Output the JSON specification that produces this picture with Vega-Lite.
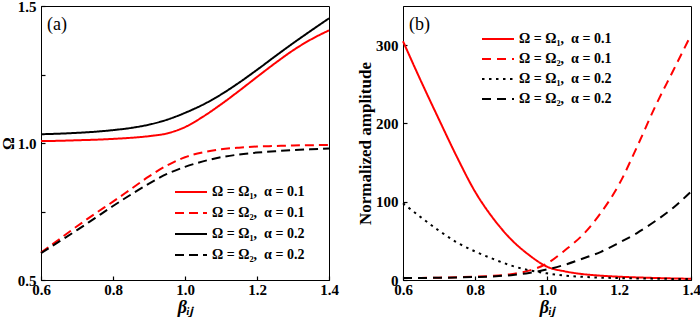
{
  "$schema": "https://vega.github.io/schema/vega-lite/v6.json",
  "padding": {"left": -1, "top": -2, "right": 0, "bottom": 0},
  "background": "white",
  "spacing": 17,
  "config": {
    "view": {"stroke": "black", "strokeWidth": 1},
    "axis": {
      "labelFont": "Liberation Serif", "labelFontWeight": "bold", "labelFontSize": 15, "labelColor": "black",
      "titleFont": "Liberation Serif", "titleFontWeight": "bold", "titleFontSize": 16, "titleColor": "black",
      "domainColor": "black", "tickColor": "black", "tickWidth": 1.2, "ticks": true, "tickSize": -4, "grid": false, "labelPadding": 9, "titlePadding": 1
    },
    "axisX": {"labelPadding": 6, "titlePadding": 1, "labelFlush": false},
    "legend": {
      "labelFont": "Liberation Serif", "labelFontWeight": "bold", "labelFontSize": 14, "labelColor": "black",
      "labelLimit": 300, "padding": 0, "symbolStrokeWidth": 2, "symbolType": "M-1,0H2.2", "symbolSize": 400, "labelOffset": 16
    },
    "line": {"strokeWidth": 2, "interpolate": "monotone"}
  },
  "datasets": {
    "a": [
      {"s": "Ω = Ω₁,\u2002α = 0.1", "x": 0.6, "y": 1.007}, {"s": "Ω = Ω₁,\u2002α = 0.1", "x": 0.65, "y": 1.008}, {"s": "Ω = Ω₁,\u2002α = 0.1", "x": 0.7, "y": 1.010}, {"s": "Ω = Ω₁,\u2002α = 0.1", "x": 0.75, "y": 1.012}, {"s": "Ω = Ω₁,\u2002α = 0.1", "x": 0.8, "y": 1.015}, {"s": "Ω = Ω₁,\u2002α = 0.1", "x": 0.85, "y": 1.019}, {"s": "Ω = Ω₁,\u2002α = 0.1", "x": 0.9, "y": 1.025}, {"s": "Ω = Ω₁,\u2002α = 0.1", "x": 0.95, "y": 1.035}, {"s": "Ω = Ω₁,\u2002α = 0.1", "x": 1.0, "y": 1.058}, {"s": "Ω = Ω₁,\u2002α = 0.1", "x": 1.05, "y": 1.096}, {"s": "Ω = Ω₁,\u2002α = 0.1", "x": 1.1, "y": 1.141}, {"s": "Ω = Ω₁,\u2002α = 0.1", "x": 1.15, "y": 1.19}, {"s": "Ω = Ω₁,\u2002α = 0.1", "x": 1.2, "y": 1.241}, {"s": "Ω = Ω₁,\u2002α = 0.1", "x": 1.25, "y": 1.291}, {"s": "Ω = Ω₁,\u2002α = 0.1", "x": 1.3, "y": 1.338}, {"s": "Ω = Ω₁,\u2002α = 0.1", "x": 1.35, "y": 1.378}, {"s": "Ω = Ω₁,\u2002α = 0.1", "x": 1.4, "y": 1.411},
      {"s": "Ω = Ω₂,\u2002α = 0.1", "x": 0.6, "y": 0.600}, {"s": "Ω = Ω₂,\u2002α = 0.1", "x": 0.65, "y": 0.648}, {"s": "Ω = Ω₂,\u2002α = 0.1", "x": 0.7, "y": 0.696}, {"s": "Ω = Ω₂,\u2002α = 0.1", "x": 0.75, "y": 0.742}, {"s": "Ω = Ω₂,\u2002α = 0.1", "x": 0.8, "y": 0.786}, {"s": "Ω = Ω₂,\u2002α = 0.1", "x": 0.85, "y": 0.832}, {"s": "Ω = Ω₂,\u2002α = 0.1", "x": 0.9, "y": 0.878}, {"s": "Ω = Ω₂,\u2002α = 0.1", "x": 0.95, "y": 0.918}, {"s": "Ω = Ω₂,\u2002α = 0.1", "x": 1.0, "y": 0.948}, {"s": "Ω = Ω₂,\u2002α = 0.1", "x": 1.05, "y": 0.966}, {"s": "Ω = Ω₂,\u2002α = 0.1", "x": 1.1, "y": 0.977}, {"s": "Ω = Ω₂,\u2002α = 0.1", "x": 1.15, "y": 0.983}, {"s": "Ω = Ω₂,\u2002α = 0.1", "x": 1.2, "y": 0.987}, {"s": "Ω = Ω₂,\u2002α = 0.1", "x": 1.25, "y": 0.989}, {"s": "Ω = Ω₂,\u2002α = 0.1", "x": 1.3, "y": 0.991}, {"s": "Ω = Ω₂,\u2002α = 0.1", "x": 1.35, "y": 0.992}, {"s": "Ω = Ω₂,\u2002α = 0.1", "x": 1.4, "y": 0.993},
      {"s": "Ω = Ω₁,\u2002α = 0.2", "x": 0.6, "y": 1.032}, {"s": "Ω = Ω₁,\u2002α = 0.2", "x": 0.65, "y": 1.034}, {"s": "Ω = Ω₁,\u2002α = 0.2", "x": 0.7, "y": 1.037}, {"s": "Ω = Ω₁,\u2002α = 0.2", "x": 0.75, "y": 1.041}, {"s": "Ω = Ω₁,\u2002α = 0.2", "x": 0.8, "y": 1.047}, {"s": "Ω = Ω₁,\u2002α = 0.2", "x": 0.85, "y": 1.055}, {"s": "Ω = Ω₁,\u2002α = 0.2", "x": 0.9, "y": 1.067}, {"s": "Ω = Ω₁,\u2002α = 0.2", "x": 0.95, "y": 1.085}, {"s": "Ω = Ω₁,\u2002α = 0.2", "x": 1.0, "y": 1.11}, {"s": "Ω = Ω₁,\u2002α = 0.2", "x": 1.05, "y": 1.14}, {"s": "Ω = Ω₁,\u2002α = 0.2", "x": 1.1, "y": 1.177}, {"s": "Ω = Ω₁,\u2002α = 0.2", "x": 1.15, "y": 1.22}, {"s": "Ω = Ω₁,\u2002α = 0.2", "x": 1.2, "y": 1.267}, {"s": "Ω = Ω₁,\u2002α = 0.2", "x": 1.25, "y": 1.316}, {"s": "Ω = Ω₁,\u2002α = 0.2", "x": 1.3, "y": 1.364}, {"s": "Ω = Ω₁,\u2002α = 0.2", "x": 1.35, "y": 1.41}, {"s": "Ω = Ω₁,\u2002α = 0.2", "x": 1.4, "y": 1.455},
      {"s": "Ω = Ω₂,\u2002α = 0.2", "x": 0.6, "y": 0.598}, {"s": "Ω = Ω₂,\u2002α = 0.2", "x": 0.65, "y": 0.640}, {"s": "Ω = Ω₂,\u2002α = 0.2", "x": 0.7, "y": 0.682}, {"s": "Ω = Ω₂,\u2002α = 0.2", "x": 0.75, "y": 0.726}, {"s": "Ω = Ω₂,\u2002α = 0.2", "x": 0.8, "y": 0.770}, {"s": "Ω = Ω₂,\u2002α = 0.2", "x": 0.85, "y": 0.812}, {"s": "Ω = Ω₂,\u2002α = 0.2", "x": 0.9, "y": 0.852}, {"s": "Ω = Ω₂,\u2002α = 0.2", "x": 0.95, "y": 0.887}, {"s": "Ω = Ω₂,\u2002α = 0.2", "x": 1.0, "y": 0.913}, {"s": "Ω = Ω₂,\u2002α = 0.2", "x": 1.05, "y": 0.933}, {"s": "Ω = Ω₂,\u2002α = 0.2", "x": 1.1, "y": 0.948}, {"s": "Ω = Ω₂,\u2002α = 0.2", "x": 1.15, "y": 0.958}, {"s": "Ω = Ω₂,\u2002α = 0.2", "x": 1.2, "y": 0.965}, {"s": "Ω = Ω₂,\u2002α = 0.2", "x": 1.25, "y": 0.970}, {"s": "Ω = Ω₂,\u2002α = 0.2", "x": 1.3, "y": 0.974}, {"s": "Ω = Ω₂,\u2002α = 0.2", "x": 1.35, "y": 0.977}, {"s": "Ω = Ω₂,\u2002α = 0.2", "x": 1.4, "y": 0.980}
    ],
    "b": [
      {"s": "Ω = Ω₁,\u2002α = 0.1", "x": 0.6, "y": 305}, {"s": "Ω = Ω₁,\u2002α = 0.1", "x": 0.65, "y": 254}, {"s": "Ω = Ω₁,\u2002α = 0.1", "x": 0.7, "y": 205}, {"s": "Ω = Ω₁,\u2002α = 0.1", "x": 0.75, "y": 157}, {"s": "Ω = Ω₁,\u2002α = 0.1", "x": 0.8, "y": 113}, {"s": "Ω = Ω₁,\u2002α = 0.1", "x": 0.85, "y": 79}, {"s": "Ω = Ω₁,\u2002α = 0.1", "x": 0.9, "y": 52}, {"s": "Ω = Ω₁,\u2002α = 0.1", "x": 0.95, "y": 32}, {"s": "Ω = Ω₁,\u2002α = 0.1", "x": 1.0, "y": 17}, {"s": "Ω = Ω₁,\u2002α = 0.1", "x": 1.05, "y": 11}, {"s": "Ω = Ω₁,\u2002α = 0.1", "x": 1.1, "y": 7.5}, {"s": "Ω = Ω₁,\u2002α = 0.1", "x": 1.15, "y": 5.5}, {"s": "Ω = Ω₁,\u2002α = 0.1", "x": 1.2, "y": 4.2}, {"s": "Ω = Ω₁,\u2002α = 0.1", "x": 1.25, "y": 3.3}, {"s": "Ω = Ω₁,\u2002α = 0.1", "x": 1.3, "y": 2.6}, {"s": "Ω = Ω₁,\u2002α = 0.1", "x": 1.35, "y": 2.0}, {"s": "Ω = Ω₁,\u2002α = 0.1", "x": 1.4, "y": 1.6},
      {"s": "Ω = Ω₂,\u2002α = 0.1", "x": 0.6, "y": 2.5}, {"s": "Ω = Ω₂,\u2002α = 0.1", "x": 0.65, "y": 2.7}, {"s": "Ω = Ω₂,\u2002α = 0.1", "x": 0.7, "y": 3.0}, {"s": "Ω = Ω₂,\u2002α = 0.1", "x": 0.75, "y": 3.5}, {"s": "Ω = Ω₂,\u2002α = 0.1", "x": 0.8, "y": 4.2}, {"s": "Ω = Ω₂,\u2002α = 0.1", "x": 0.85, "y": 5.3}, {"s": "Ω = Ω₂,\u2002α = 0.1", "x": 0.9, "y": 7.5}, {"s": "Ω = Ω₂,\u2002α = 0.1", "x": 0.95, "y": 12}, {"s": "Ω = Ω₂,\u2002α = 0.1", "x": 1.0, "y": 21}, {"s": "Ω = Ω₂,\u2002α = 0.1", "x": 1.05, "y": 38}, {"s": "Ω = Ω₂,\u2002α = 0.1", "x": 1.1, "y": 58}, {"s": "Ω = Ω₂,\u2002α = 0.1", "x": 1.15, "y": 86}, {"s": "Ω = Ω₂,\u2002α = 0.1", "x": 1.2, "y": 122}, {"s": "Ω = Ω₂,\u2002α = 0.1", "x": 1.25, "y": 170}, {"s": "Ω = Ω₂,\u2002α = 0.1", "x": 1.3, "y": 221}, {"s": "Ω = Ω₂,\u2002α = 0.1", "x": 1.35, "y": 267}, {"s": "Ω = Ω₂,\u2002α = 0.1", "x": 1.4, "y": 313},
      {"s": "Ω = Ω₁,\u2002α = 0.2", "x": 0.6, "y": 98}, {"s": "Ω = Ω₁,\u2002α = 0.2", "x": 0.65, "y": 80}, {"s": "Ω = Ω₁,\u2002α = 0.2", "x": 0.7, "y": 63}, {"s": "Ω = Ω₁,\u2002α = 0.2", "x": 0.75, "y": 48}, {"s": "Ω = Ω₁,\u2002α = 0.2", "x": 0.8, "y": 36.5}, {"s": "Ω = Ω₁,\u2002α = 0.2", "x": 0.85, "y": 27}, {"s": "Ω = Ω₁,\u2002α = 0.2", "x": 0.9, "y": 18.5}, {"s": "Ω = Ω₁,\u2002α = 0.2", "x": 0.95, "y": 12.5}, {"s": "Ω = Ω₁,\u2002α = 0.2", "x": 1.0, "y": 8.5}, {"s": "Ω = Ω₁,\u2002α = 0.2", "x": 1.05, "y": 5.6}, {"s": "Ω = Ω₁,\u2002α = 0.2", "x": 1.1, "y": 4.0}, {"s": "Ω = Ω₁,\u2002α = 0.2", "x": 1.15, "y": 3.0}, {"s": "Ω = Ω₁,\u2002α = 0.2", "x": 1.2, "y": 2.4}, {"s": "Ω = Ω₁,\u2002α = 0.2", "x": 1.25, "y": 2.0}, {"s": "Ω = Ω₁,\u2002α = 0.2", "x": 1.3, "y": 1.7}, {"s": "Ω = Ω₁,\u2002α = 0.2", "x": 1.35, "y": 1.4}, {"s": "Ω = Ω₁,\u2002α = 0.2", "x": 1.4, "y": 1.2},
      {"s": "Ω = Ω₂,\u2002α = 0.2", "x": 0.6, "y": 2.5}, {"s": "Ω = Ω₂,\u2002α = 0.2", "x": 0.65, "y": 2.6}, {"s": "Ω = Ω₂,\u2002α = 0.2", "x": 0.7, "y": 2.8}, {"s": "Ω = Ω₂,\u2002α = 0.2", "x": 0.75, "y": 3.2}, {"s": "Ω = Ω₂,\u2002α = 0.2", "x": 0.8, "y": 3.8}, {"s": "Ω = Ω₂,\u2002α = 0.2", "x": 0.85, "y": 4.6}, {"s": "Ω = Ω₂,\u2002α = 0.2", "x": 0.9, "y": 6.2}, {"s": "Ω = Ω₂,\u2002α = 0.2", "x": 0.95, "y": 9}, {"s": "Ω = Ω₂,\u2002α = 0.2", "x": 1.0, "y": 13.5}, {"s": "Ω = Ω₂,\u2002α = 0.2", "x": 1.05, "y": 19.5}, {"s": "Ω = Ω₂,\u2002α = 0.2", "x": 1.1, "y": 27.5}, {"s": "Ω = Ω₂,\u2002α = 0.2", "x": 1.15, "y": 36}, {"s": "Ω = Ω₂,\u2002α = 0.2", "x": 1.2, "y": 47.5}, {"s": "Ω = Ω₂,\u2002α = 0.2", "x": 1.25, "y": 60}, {"s": "Ω = Ω₂,\u2002α = 0.2", "x": 1.3, "y": 75}, {"s": "Ω = Ω₂,\u2002α = 0.2", "x": 1.35, "y": 92}, {"s": "Ω = Ω₂,\u2002α = 0.2", "x": 1.4, "y": 113}
    ]
  },
  "resolve": {"scale": {"color": "independent", "strokeDash": "independent"}, "legend": {"color": "independent", "strokeDash": "independent"}},
  "hconcat": [
    {
      "width": 288, "height": 274,
      "layer": [
        {
          "data": {"name": "a"},
          "mark": {"type": "line"},
          "encoding": {
            "x": {"field": "x", "type": "quantitative", "scale": {"domain": [0.6, 1.4], "nice": false},
              "axis": {"title": "βᵢⱼ", "titleFontStyle": "italic", "titleFontSize": 18, "values": [0.6, 0.7, 0.8, 0.9, 1.0, 1.1, 1.2, 1.3, 1.4],
                "labelExpr": "round(datum.value*10)%2==1 ? '' : format(datum.value,'.1f')"}},
            "y": {"field": "y", "type": "quantitative", "scale": {"domain": [0.5, 1.5], "nice": false},
              "axis": {"title": "Ω", "values": [0.5, 0.75, 1.0, 1.25, 1.5],
                "labelExpr": "round(datum.value*100)%50!=0 ? '' : format(datum.value,'.1f')"}},
            "color": {"field": "s", "type": "nominal",
              "scale": {"domain": ["Ω = Ω₁,\u2002α = 0.1", "Ω = Ω₂,\u2002α = 0.1", "Ω = Ω₁,\u2002α = 0.2", "Ω = Ω₂,\u2002α = 0.2"], "range": ["#ff0000", "#ff0000", "#000000", "#000000"]},
              "legend": {"orient": "none", "legendX": 133, "legendY": 175, "title": null, "rowPadding": 3}},
            "strokeDash": {"field": "s", "type": "nominal",
              "scale": {"domain": ["Ω = Ω₁,\u2002α = 0.1", "Ω = Ω₂,\u2002α = 0.1", "Ω = Ω₁,\u2002α = 0.2", "Ω = Ω₂,\u2002α = 0.2"], "range": [[1, 0], [9, 5], [1, 0], [9, 5]]},
              "legend": {"orient": "none", "legendX": 133, "legendY": 175, "title": null, "rowPadding": 3}}
          }
        },
        {
          "data": {"values": [{"t": "(a)"}]},
          "mark": {"type": "text", "align": "left", "baseline": "top", "dx": 6, "dy": 10, "font": "Liberation Serif", "fontSize": 18, "color": "black"},
          "encoding": {
            "x": {"datum": 0.6, "type": "quantitative"},
            "y": {"datum": 1.5, "type": "quantitative"},
            "text": {"field": "t"}
          }
        }
      ]
    },
    {
      "width": 288, "height": 274,
      "layer": [
        {
          "data": {"name": "b"},
          "mark": {"type": "line"},
          "encoding": {
            "x": {"field": "x", "type": "quantitative", "scale": {"domain": [0.6, 1.4], "nice": false},
              "axis": {"title": "βᵢⱼ", "titleFontStyle": "italic", "titleFontSize": 18, "values": [0.6, 0.7, 0.8, 0.9, 1.0, 1.1, 1.2, 1.3, 1.4],
                "labelExpr": "round(datum.value*10)%2==1 ? '' : format(datum.value,'.1f')"}},
            "y": {"field": "y", "type": "quantitative", "scale": {"domain": [0, 350], "nice": false},
              "axis": {"title": "Normalized amplitude", "titleFontSize": 17, "values": [0, 25, 50, 75, 100, 125, 150, 175, 200, 225, 250, 275, 300, 325, 350],
                "labelExpr": "datum.value%50!=0 ? '' : format(datum.value,'d')"}},
            "color": {"field": "s", "type": "nominal",
              "scale": {"domain": ["Ω = Ω₁,\u2002α = 0.1", "Ω = Ω₂,\u2002α = 0.1", "Ω = Ω₁,\u2002α = 0.2", "Ω = Ω₂,\u2002α = 0.2"], "range": ["#ff0000", "#ff0000", "#000000", "#000000"]},
              "legend": {"orient": "none", "legendX": 78, "legendY": 22, "title": null, "rowPadding": 2}},
            "strokeDash": {"field": "s", "type": "nominal",
              "scale": {"domain": ["Ω = Ω₁,\u2002α = 0.1", "Ω = Ω₂,\u2002α = 0.1", "Ω = Ω₁,\u2002α = 0.2", "Ω = Ω₂,\u2002α = 0.2"], "range": [[1, 0], [9, 6], [2.5, 4.5], [9, 6]]},
              "legend": {"orient": "none", "legendX": 78, "legendY": 22, "title": null, "rowPadding": 2}}
          }
        },
        {
          "data": {"values": [{"t": "(b)"}]},
          "mark": {"type": "text", "align": "left", "baseline": "top", "dx": 6, "dy": 10, "font": "Liberation Serif", "fontSize": 18, "color": "black"},
          "encoding": {
            "x": {"datum": 0.6, "type": "quantitative"},
            "y": {"datum": 350, "type": "quantitative"},
            "text": {"field": "t"}
          }
        }
      ]
    }
  ]
}
